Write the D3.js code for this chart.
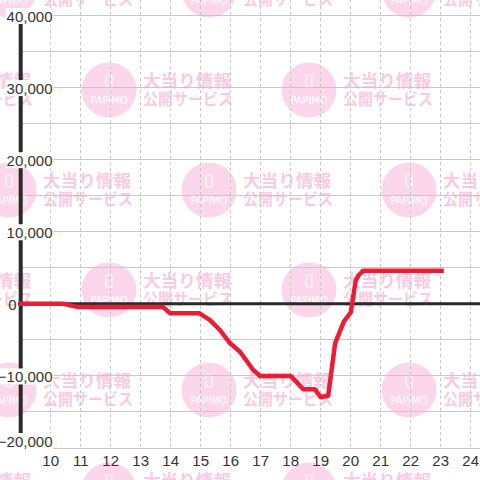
<!DOCTYPE html>
<html><head><meta charset="utf-8">
<script src="https://cdn.jsdelivr.net/npm/d3@7"></script>
<style>
html,body{margin:0;padding:0;background:#fff;}
svg{display:block;}
</style></head>
<body>
<svg id="c" width="480" height="480"></svg>
<script>
// ---- data ----
const hours  = [9, 10.42, 10.92, 13.75, 13.98, 14.95, 15.31, 15.64, 15.98, 16.31, 16.75, 16.98, 18.0, 18.42, 18.81, 19.0, 19.25, 19.48, 19.77, 20.0, 20.17, 20.27, 20.42, 23.03];
const values = [0, 0, -450, -450, -1300, -1300, -2250, -3630, -5480, -6640, -9180, -10000, -10000, -11850, -11850, -12950, -12750, -5480, -2480, -1200, 3300, 4000, 4600, 4600];
const xTicks = [10, 11, 12, 13, 14, 15, 16, 17, 18, 19, 20, 21, 22, 23, 24];
const yGrid  = [-20000, -15000, -10000, -5000, 0, 5000, 10000, 15000, 20000, 25000, 30000, 35000, 40000];
const yLabels = [-20000, -10000, 0, 10000, 20000, 30000, 40000];
const wmLine1 = "大当り情報";
const wmLine2 = "公開サービス";
const wmBrand = "PAPIMO";

const svg = d3.select("#c");
const W = 480, H = 480;
const x = d3.scaleLinear().domain([9, 24.3]).range([20.7, 479.7]);
const y = d3.scaleLinear().domain([-20000, 40000]).range([448, 15.5]);
const fmt = d3.format(",");

// ---- watermark tiles ----
const wm = svg.append("g");
const tiles = [];
for (let j = -1; j <= 5; j++) {
  for (let k = -1; k <= 3; k++) {
    const cy = 190 + (j - 1) * 100;
    const cx = 9 + k * 200 + (((j % 2) + 2) % 2 === 0 ? 100 : 0);
    tiles.push([cx, cy]);
  }
}
tiles.forEach(([cx, cy]) => {
  const g = wm.append("g").attr("transform", `translate(${cx},${cy})`);
  g.append("circle").attr("r", 27.5).attr("fill", "#fcd6eb");
  g.append("rect").attr("x", -3).attr("y", -15).attr("width", 6).attr("height", 12).attr("rx", 1.2)
    .attr("fill", "none").attr("stroke", "#fff").attr("stroke-width", 1.2).attr("opacity", 0.9);
  g.append("text").attr("x", 0).attr("y", 14).attr("text-anchor", "middle")
    .attr("font-family", "DejaVu Sans, sans-serif").attr("font-size", 10).attr("fill", "#fff")
    .attr("textLength", 37).attr("lengthAdjust", "spacingAndGlyphs").text(wmBrand);
  g.append("text").attr("x", 34).attr("y", -3.5)
    .attr("font-family", "'Noto Sans CJK JP', sans-serif").attr("font-weight", "bold")
    .attr("font-size", 17).attr("fill", "#f8cbe3")
    .attr("textLength", 88).attr("lengthAdjust", "spacingAndGlyphs").text(wmLine1);
  g.append("text").attr("x", 34).attr("y", 15)
    .attr("font-family", "'Noto Sans CJK JP', sans-serif").attr("font-weight", "bold")
    .attr("font-size", 16).attr("fill", "#f8cbe3")
    .attr("textLength", 90).attr("lengthAdjust", "spacingAndGlyphs").text(wmLine2);
});

// ---- grid ----
svg.append("g").selectAll("line").data(xTicks).join("line")
  .attr("x1", d => x(d)).attr("x2", d => x(d))
  .attr("y1", 0).attr("y2", y(-20000))
  .attr("stroke", "#c6c6c6").attr("stroke-width", 1).attr("stroke-dasharray", "3,3")
  .attr("shape-rendering", "crispEdges");
svg.append("g").selectAll("line").data(yGrid).join("line")
  .attr("x1", x(9)).attr("x2", W)
  .attr("y1", d => y(d)).attr("y2", d => y(d))
  .attr("stroke", "#c8c8c8").attr("stroke-width", 1)
  .attr("shape-rendering", "crispEdges");

// zero line
svg.append("line").attr("x1", 18).attr("x2", W).attr("y1", y(0)).attr("y2", y(0))
  .attr("stroke", "#2a2a2a").attr("stroke-width", 3);

// y axis bar
svg.append("line").attr("x1", x(9)).attr("x2", x(9)).attr("y1", y(40000)).attr("y2", y(-20000))
  .attr("stroke", "#2a2a2a").attr("stroke-width", 4);

// ---- y labels with white boxes ----
const yl = svg.append("g");
yLabels.forEach(v => {
  const cy = Math.min(y(v), 440.5);
  const t = yl.append("text")
    .attr("x", v === 0 ? 16.5 : 52.5)
    .attr("y", cy + 6)
    .attr("text-anchor", "end")
    .attr("font-family", "'Liberation Sans', Arial, sans-serif")
    .attr("font-size", 15).attr("fill", "#333")
    .text(fmt(v));
  if (v !== 0) {
    const b = t.node().getBBox();
    yl.insert("rect", () => t.node())
      .attr("x", b.x - 1).attr("y", cy - 7.5)
      .attr("width", b.width + 2).attr("height", 16)
      .attr("fill", "#fff");
  }
});

// ---- x labels ----
svg.append("g").selectAll("text").data(xTicks).join("text")
  .attr("x", d => x(d)).attr("y", 465.5)
  .attr("text-anchor", "middle")
  .attr("font-family", "'Liberation Sans', Arial, sans-serif")
  .attr("font-size", 15).attr("fill", "#333")
  .text(d => d);

// ---- series line ----
const pts = hours.map((h, i) => [h, values[i]]);
svg.append("path").datum(pts)
  .attr("d", d3.line().x(d => x(d[0])).y(d => y(d[1])))
  .attr("fill", "none").attr("stroke", "#ec1c34").attr("stroke-width", 4.5)
  .attr("stroke-linejoin", "round").attr("stroke-linecap", "square");
</script>
</body></html>
